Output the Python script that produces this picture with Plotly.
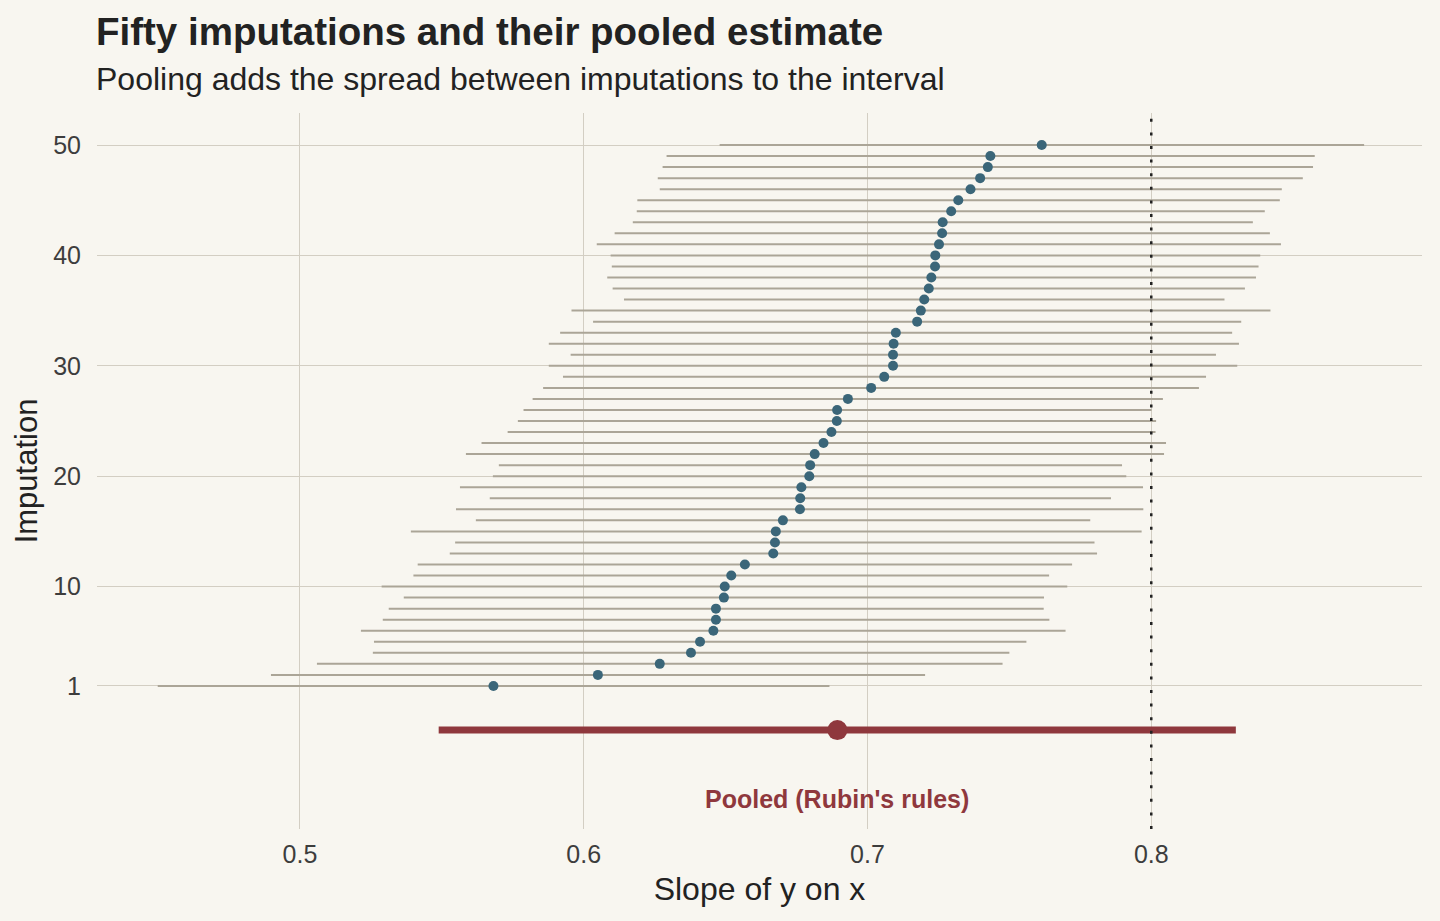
import plotly.graph_objects as go

imputation = list(range(1, 51))
estimate = [0.5682, 0.6050, 0.6268, 0.6378, 0.6410, 0.6457, 0.6466, 0.6466, 0.6494, 0.6497,
            0.6520, 0.6568, 0.6668, 0.6674, 0.6677, 0.6702, 0.6762, 0.6763, 0.6767, 0.6795,
            0.6798, 0.6814, 0.6845, 0.6873, 0.6892, 0.6893, 0.6931, 0.7013, 0.7059, 0.7090,
            0.7090, 0.7092, 0.7100, 0.7175, 0.7188, 0.7200, 0.7216, 0.7225, 0.7238, 0.7239,
            0.7252, 0.7263, 0.7265, 0.7295, 0.7320, 0.7363, 0.7397, 0.7424, 0.7433, 0.7614]
lower = [0.4499, 0.4898, 0.5060, 0.5257, 0.5261, 0.5215, 0.5292, 0.5313, 0.5366, 0.5288,
         0.5400, 0.5415, 0.5528, 0.5547, 0.5391, 0.5620, 0.5550, 0.5669, 0.5564, 0.5680,
         0.5701, 0.5585, 0.5640, 0.5732, 0.5768, 0.5788, 0.5820, 0.5857, 0.5927, 0.5877,
         0.5954, 0.5877, 0.5917, 0.6033, 0.5957, 0.6142, 0.6102, 0.6083, 0.6099, 0.6095,
         0.6046, 0.6109, 0.6173, 0.6187, 0.6189, 0.6268, 0.6261, 0.6278, 0.6292, 0.6479]
upper = [0.6866, 0.7203, 0.7476, 0.7500, 0.7560, 0.7698, 0.7641, 0.7621, 0.7622, 0.7704,
         0.7640, 0.7721, 0.7809, 0.7800, 0.7966, 0.7785, 0.7972, 0.7858, 0.7971, 0.7912,
         0.7897, 0.8045, 0.8052, 0.8015, 0.8017, 0.8001, 0.8041, 0.8168, 0.8193, 0.8303,
         0.8228, 0.8309, 0.8285, 0.8317, 0.8420, 0.8258, 0.8330, 0.8369, 0.8378, 0.8384,
         0.8457, 0.8418, 0.8358, 0.8400, 0.8453, 0.8460, 0.8534, 0.8570, 0.8576, 0.8750]

pooled_estimate = 0.6894
pooled_lower = 0.5489
pooled_upper = 0.8298
pooled_row = -3
pooled_label = "Pooled (Rubin's rules)"
pooled_label_row = -9.2
true_value = 0.8

x_ticks = [0.5, 0.6, 0.7, 0.8]
y_ticks = [1, 10, 20, 30, 40, 50]

BG = "#F8F6F0"
GRID = "#D3CEC3"
SEG = "#ABA597"
DOT = "#3B6679"
RED = "#8F383D"
FONT = "Liberation Sans, Arial, sans-serif"

seg_x, seg_y = [], []
for lo, hi, k in zip(lower, upper, imputation):
    seg_x += [lo, hi, None]
    seg_y += [k, k, None]

fig = go.Figure()
fig.add_trace(go.Scatter(x=seg_x, y=seg_y, mode="lines",
                         line=dict(color=SEG, width=2), hoverinfo="skip", showlegend=False))
fig.add_trace(go.Scatter(x=estimate, y=imputation, mode="markers",
                         marker=dict(color=DOT, size=10, line=dict(width=0)), showlegend=False))
fig.add_trace(go.Scatter(x=[pooled_lower, pooled_upper], y=[pooled_row, pooled_row], mode="lines",
                         line=dict(color=RED, width=7), showlegend=False))
fig.add_trace(go.Scatter(x=[pooled_estimate], y=[pooled_row], mode="markers",
                         marker=dict(color=RED, size=20, line=dict(width=0)), showlegend=False))

fig.add_shape(type="line", xref="x", yref="paper", x0=true_value, x1=true_value, y0=0, y1=1,
              line=dict(color="#222222", width=2.5, dash="3px,10.6px"), layer="above")

fig.add_annotation(x=pooled_estimate, y=pooled_label_row, xref="x", yref="y", text=pooled_label,
                   showarrow=False, font=dict(family=FONT, size=25, color=RED, weight="bold"),
                   xanchor="center", yanchor="middle")

fig.add_annotation(x=0, y=1 + (113 - 31) / 716, xref="paper", yref="paper",
                   text="<b>Fifty imputations and their pooled estimate</b>",
                   showarrow=False, xanchor="left", yanchor="middle", xshift=-3,
                   font=dict(family=FONT, size=38.5, color="#222222"))
fig.add_annotation(x=0, y=1 + (113 - 79) / 716, xref="paper", yref="paper",
                   text="Pooling adds the spread between imputations to the interval",
                   showarrow=False, xanchor="left", yanchor="middle", xshift=-3,
                   font=dict(family=FONT, size=32, color="#222222"))

fig.update_layout(
    width=1440, height=921,
    paper_bgcolor=BG, plot_bgcolor=BG,
    margin=dict(l=97, r=18, t=113, b=92),
    font=dict(family=FONT, color="#3D3D3D"),
    xaxis=dict(range=[0.4285, 0.8954], tickvals=x_ticks, ticktext=[str(v) for v in x_ticks],
               showgrid=True, gridcolor=GRID, gridwidth=1.3, zeroline=False, showline=False,
               ticks="", tickfont=dict(size=25, color="#3D3D3D"), ticklabelstandoff=8,
               title=dict(text="Slope of y on x", font=dict(size=32, color="#222222"), standoff=10)),
    yaxis=dict(range=[-11.96, 52.9], tickvals=y_ticks, ticktext=[str(v) for v in y_ticks],
               showgrid=True, gridcolor=GRID, gridwidth=1.3, zeroline=False, showline=False,
               ticks="", tickfont=dict(size=25, color="#3D3D3D"), ticklabelstandoff=15,
               title=dict(text="Imputation", font=dict(size=31, color="#222222"), standoff=6)),
    showlegend=False,
)

fig.write_html("out.html")
